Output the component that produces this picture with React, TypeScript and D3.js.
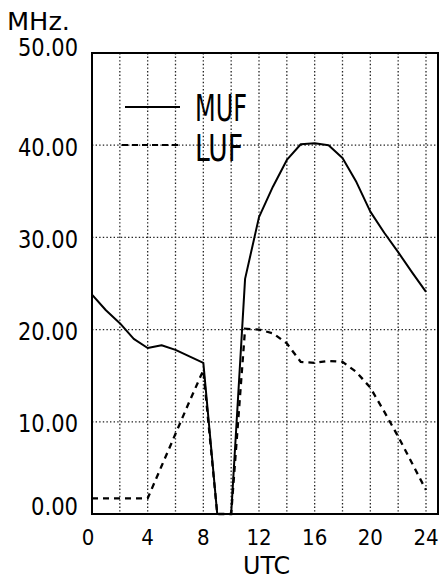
import * as d3 from 'd3';

const hours = [0, 1, 2, 3, 4, 5, 6, 7, 8, 9, 10, 11, 12, 13, 14, 15, 16, 17, 18, 19, 20, 21, 22, 23, 24];
const mufValues = [23.8, 22.1, 20.7, 19.0, 18.0, 18.3, 17.8, 17.1, 16.4, 0, 0, 25.5, 32.2, 35.5, 38.4, 40.1, 40.2, 40.0, 38.6, 36.0, 32.8, 30.5, 28.4, 26.2, 24.1];
const lufValues = [1.7, 1.7, 1.7, 1.7, 1.7, 5.2, 8.7, 12.2, 15.6, 0, 0, 20.1, 20.0, 19.6, 18.5, 16.5, 16.4, 16.6, 16.5, 15.4, 13.7, 11.1, 8.4, 5.5, 2.6];
const xTicks = [0, 4, 8, 12, 16, 20, 24];
const xGrid = [2, 4, 6, 8, 10, 12, 14, 16, 18, 20, 22, 24];
const yTicks = [0, 10, 20, 30, 40, 50];
const yGrid = [10, 20, 30, 40];
const seriesNames = ['MUF', 'LUF'];

const W = 441;
const H = 580;
const left = 92;
const x24 = 426;
const right = 438;
const top = 53;
const bottom = 514;
const font = '"DejaVu Sans Condensed", "Liberation Sans Narrow", "DejaVu Sans", sans-serif';

export default function App() {
  const x = d3.scaleLinear().domain([0, 24]).range([left, x24]);
  const y = d3.scaleLinear().domain([0, 50]).range([bottom, top]);

  const line = d3
    .line<number>()
    .x((_, i) => x(hours[i]))
    .y((d) => y(d));

  return (
    <svg
      width={W}
      height={H}
      style={{ position: 'absolute', left: 0, top: 0, background: '#fff', fontFamily: font }}
    >
      {/* grid */}
      {xGrid.map((h) => (
        <line key={'gx' + h} x1={x(h)} x2={x(h)} y1={top} y2={bottom}
          stroke="#222" strokeWidth={1.3} strokeDasharray="1.4 2.2" />
      ))}
      {yGrid.map((v) => (
        <line key={'gy' + v} x1={left} x2={right} y1={y(v)} y2={y(v)}
          stroke="#222" strokeWidth={1.3} strokeDasharray="1.4 2.2" />
      ))}

      {/* frame */}
      <rect x={left} y={top} width={right - left} height={bottom - top}
        fill="none" stroke="#000" strokeWidth={2} />

      {/* series */}
      <path d={line(mufValues) ?? ''} fill="none" stroke="#000" strokeWidth={2} strokeLinejoin="round" />
      <path d={line(lufValues) ?? ''} fill="none" stroke="#000" strokeWidth={2.3} strokeDasharray="6 5" />

      {/* legend */}
      <line x1={125} x2={180} y1={107} y2={107} stroke="#000" strokeWidth={2} />
      <text x={195} y={107} dy="0.36em" fontSize={38} textLength={52} lengthAdjust="spacingAndGlyphs">{seriesNames[0]}</text>
      <line x1={122} x2={180} y1={145} y2={145} stroke="#000" strokeWidth={2.2} strokeDasharray="6 4" />
      <text x={195} y={147} dy="0.36em" fontSize={38} textLength={48} lengthAdjust="spacingAndGlyphs">{seriesNames[1]}</text>

      {/* y axis labels */}
      {yTicks.map((v) => (
        <text key={'yt' + v} x={78} y={y(v) + (v === 0 ? -8 : v === 50 ? -6 : 2)} dy="0.36em"
          textAnchor="end" fontSize={24} textLength={v >= 10 ? 60 : 47} lengthAdjust="spacingAndGlyphs">
          {v.toFixed(2)}
        </text>
      ))}
      <text x={7} y={21} dy="0.36em" fontSize={24} textLength={63} lengthAdjust="spacingAndGlyphs">MHz.</text>

      {/* x axis labels */}
      {xTicks.map((h) => (
        <text key={'xt' + h} x={x(h) - (h === 0 ? 4 : 0)} y={537} dy="0.36em" textAnchor="middle" fontSize={22}>
          {h}
        </text>
      ))}
      <text x={243} y={565} dy="0.36em" fontSize={25} textLength={47} lengthAdjust="spacingAndGlyphs">UTC</text>
    </svg>
  );
}
